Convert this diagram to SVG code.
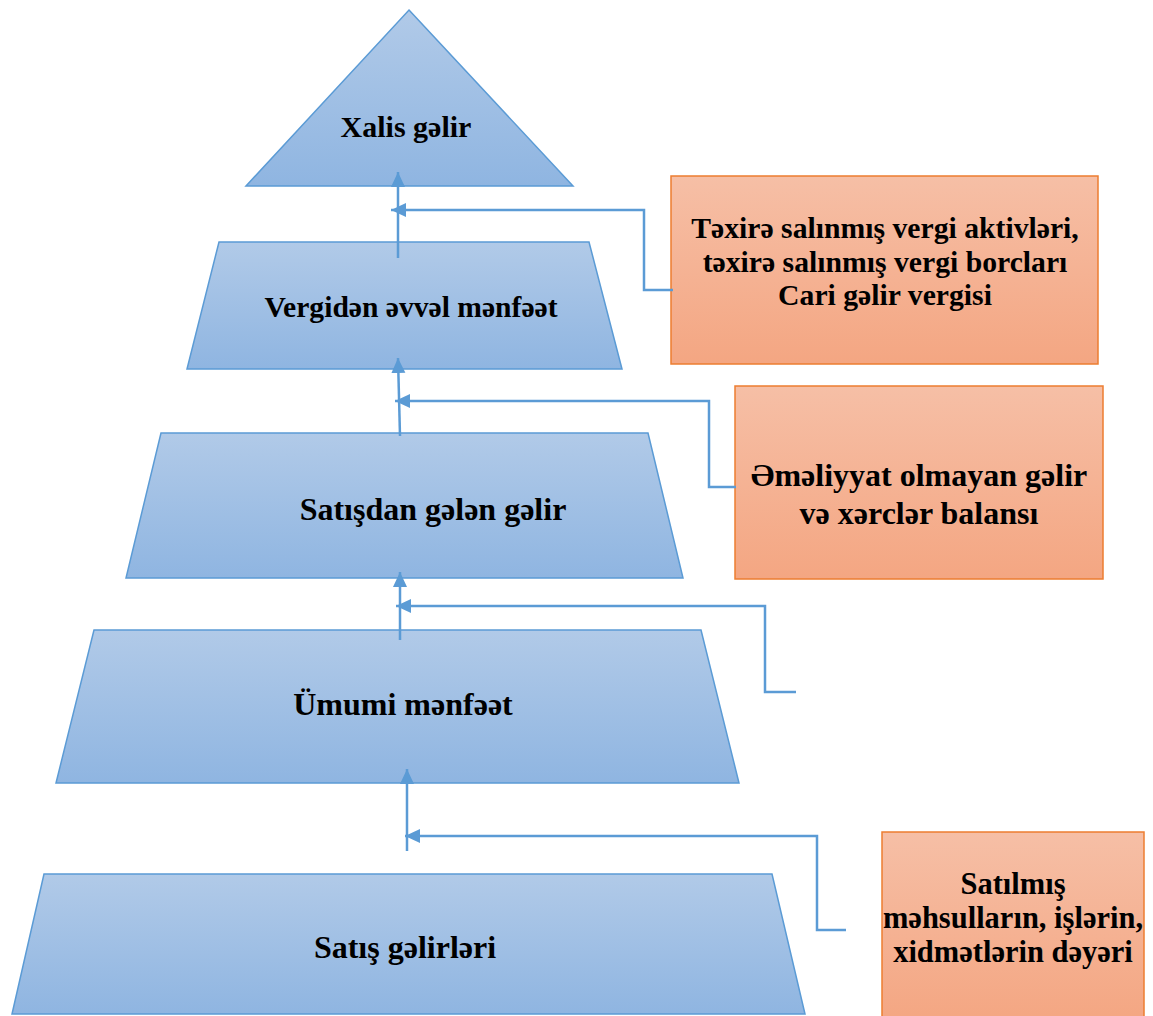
<svg xmlns="http://www.w3.org/2000/svg" width="1153" height="1016" viewBox="0 0 1153 1016">
<defs>
<linearGradient id="gBlue" x1="0" y1="0" x2="0" y2="1">
<stop offset="0" stop-color="#b1cae8"/>
<stop offset="1" stop-color="#8fb5e1"/>
</linearGradient>
<linearGradient id="gOrange" x1="0" y1="0" x2="0" y2="1">
<stop offset="0" stop-color="#f6bfa6"/>
<stop offset="1" stop-color="#f4a682"/>
</linearGradient>
<marker id="arr" markerUnits="userSpaceOnUse" markerWidth="16" markerHeight="16" refX="15" refY="7" orient="auto">
<path d="M0,0 L15,7 L0,14 z" fill="#5b9bd5"/>
</marker>
</defs>
<style>
.lvl{fill:url(#gBlue);stroke:#5b9bd5;stroke-width:1.5}
.box{fill:url(#gOrange);stroke:#ed7d31;stroke-width:1.5}
.t{font-family:"Liberation Serif","Times New Roman",serif;font-weight:bold;fill:#000;text-anchor:middle}
.c{fill:none;stroke:#5b9bd5;stroke-width:2.5}
</style>
<rect width="1153" height="1016" fill="#ffffff"/>
<g id="xalis-gelir">
<polygon class="lvl" points="409,10 573,186 246,186"/>
<text class="t" x="406" y="137" font-size="30">Xalis gəlir</text>
</g>
<g id="vergiden-evvel-menfeet">
<polygon class="lvl" points="219,242 589,242 622,369 187,369"/>
<text class="t" x="411" y="317" font-size="29.6">Vergidən əvvəl mənfəət</text>
</g>
<g id="satisdan-gelen-gelir">
<polygon class="lvl" points="161,433 648,433 683,578 126,578"/>
<text class="t" x="433" y="520" font-size="32">Satışdan gələn gəlir</text>
</g>
<g id="umumi-menfeet">
<polygon class="lvl" points="94,630 701,630 739,783 56,783"/>
<text class="t" x="403" y="715" font-size="32">Ümumi mənfəət</text>
</g>
<g id="satis-gelirleri">
<polygon class="lvl" points="44,874 772,874 805,1014 12,1014"/>
<text class="t" x="405" y="958" font-size="32">Satış gəlirləri</text>
</g>
<g id="vergi-box">
<rect class="box" x="671" y="176" width="427" height="188"/>
<text class="t" font-size="29.7"><tspan x="885" y="238">Təxirə salınmış vergi aktivləri,</tspan><tspan x="885" y="272">təxirə salınmış vergi borcları</tspan><tspan x="885" y="305">Cari gəlir vergisi</tspan></text>
</g>
<g id="emeliyyat-box">
<rect class="box" x="735" y="386" width="368" height="193"/>
<text class="t" font-size="32"><tspan x="919" y="486">Əməliyyat olmayan gəlir</tspan><tspan x="919" y="524">və xərclər balansı</tspan></text>
</g>
<g id="deyer-box">
<rect class="box" x="882" y="832" width="262" height="190"/>
<text class="t" font-size="30.5"><tspan x="1013" y="894">Satılmış</tspan><tspan x="1013" y="928">məhsulların, işlərin,</tspan><tspan x="1013" y="962">xidmətlərin dəyəri</tspan></text>
</g>
<g id="connectors">
<line class="c" x1="398" y1="258" x2="398" y2="172" marker-end="url(#arr)"/>
<polyline class="c" points="673,290 644,290 644,210 391,210" marker-end="url(#arr)"/>
<line class="c" x1="400" y1="436" x2="398" y2="358" marker-end="url(#arr)"/>
<polyline class="c" points="736,487 709,487 709,401 395,401" marker-end="url(#arr)"/>
<line class="c" x1="400" y1="640" x2="400" y2="572" marker-end="url(#arr)"/>
<polyline class="c" points="796,692 765,692 765,606 396,606" marker-end="url(#arr)"/>
<line class="c" x1="407" y1="851" x2="407" y2="769" marker-end="url(#arr)"/>
<polyline class="c" points="846,930 817,930 817,836 405,836" marker-end="url(#arr)"/>
</g>
</svg>
